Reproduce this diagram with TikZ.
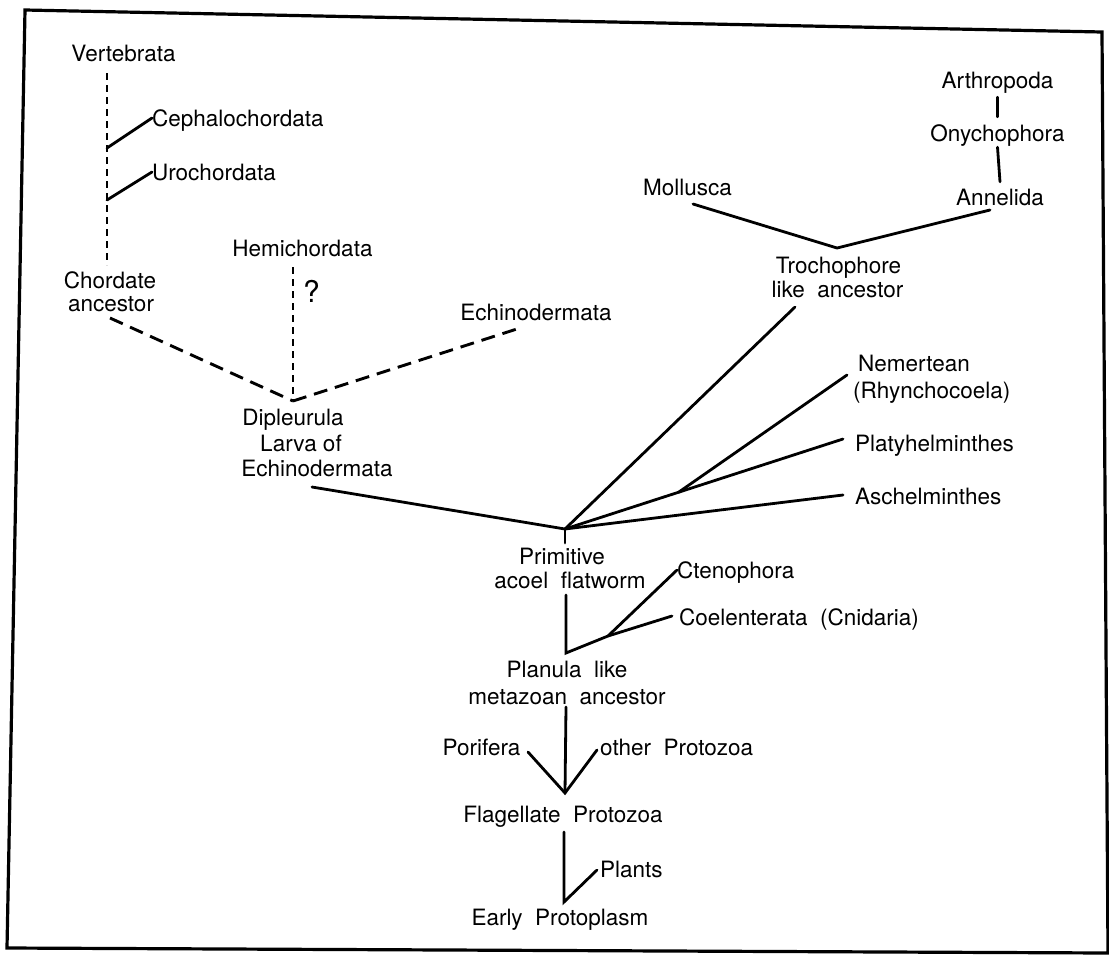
\documentclass[tikz,border=0pt]{standalone}
\usepackage{fontspec}
\setmainfont{TeX Gyre Heros}
\begin{document}
\begin{tikzpicture}[x=1pt,y=-1pt,
  lbl/.style={inner sep=0pt,text height=16pt,text depth=0pt,font=\fontsize{22.5}{27}\selectfont},
  br/.style={line width=2.8pt,line cap=round},
  sdash/.style={line width=2.6pt,dash pattern=on 7pt off 5pt},
  ldash/.style={line width=2.9pt,dash pattern=on 14pt off 8pt}]
\useasboundingbox (0,0) rectangle (1109,959);
\fill[white] (0,0) rectangle (1109,959);
\draw[line width=3.2pt,line join=miter] (25,10) -- (1102,32) -- (1108,953) -- (7,948) -- cycle;

% labels
\node[lbl,anchor=base] (vert) at (123.5,61) {Vertebrata};
\node[lbl,anchor=base west] (ceph) at (152,126) {Cephalochordata};
\node[lbl,anchor=base west] (uro) at (152,180) {Urochordata};
\node[lbl,anchor=base] (chordA) at (110,288) {Chordate};
\node[lbl,anchor=base] (chordB) at (111,311) {ancestor};
\node[lbl,anchor=base] (hemi) at (302.5,256) {Hemichordata};
\node[lbl,anchor=base west,font=\fontsize{30}{36}\selectfont] (qm) at (303,302) {?};
\node[lbl,anchor=base] (echi) at (536,320) {Echinodermata};
\node[lbl,anchor=base] (dipA) at (293,425) {Dipleurula};
\node[lbl,anchor=base] (dipB) at (301,451) {Larva of};
\node[lbl,anchor=base] (dipC) at (317,476) {Echinodermata};
\node[lbl,anchor=base] (moll) at (687.5,195) {Mollusca};
\node[lbl,anchor=base] (arth) at (997.5,88) {Arthropoda};
\node[lbl,anchor=base] (onych) at (997.5,141) {Onychophora};
\node[lbl,anchor=base] (anne) at (1000,205) {Annelida};
\node[lbl,anchor=base] (trochA) at (838.5,273) {Trochophore};
\node[lbl,anchor=base] (trochB) at (837.5,297) {like\ \ ancestor};
\node[lbl,anchor=base west] (nemA) at (858,371) {Nemertean};
\node[lbl,anchor=base west] (nemB) at (853,398) {(Rhynchocoela)};
\node[lbl,anchor=base west] (platy) at (855,451) {Platyhelminthes};
\node[lbl,anchor=base west] (asch) at (855,504) {Aschelminthes};
\node[lbl,anchor=base] (primA) at (562,564) {Primitive};
\node[lbl,anchor=base] (primB) at (570,588) {acoel\ \ flatworm};
\node[lbl,anchor=base west] (cten) at (677,578) {Ctenophora};
\node[lbl,anchor=base west] (coel) at (679,625) {Coelenterata\ \ (Cnidaria)};
\node[lbl,anchor=base] (planA) at (567,677) {Planula\ \ like};
\node[lbl,anchor=base] (planB) at (567,704) {metazoan\ \ ancestor};
\node[lbl,anchor=base] (pori) at (481.5,755) {Porifera};
\node[lbl,anchor=base west] (othp) at (600,755) {other\ \ Protozoa};
\node[lbl,anchor=base] (flag) at (563,822) {Flagellate\ \ Protozoa};
\node[lbl,anchor=base west] (plant) at (600,877) {Plants};
\node[lbl,anchor=base] (early) at (560,925) {Early\ \ Protoplasm};

% junctions and free ends
\coordinate (vtop) at (107,73);
\coordinate (vbot) at (107,265);
\coordinate (jc1) at (107,148);
\coordinate (jc2) at (107,200);
\coordinate (chd) at (110,318);
\coordinate (htop) at (293,267);
\coordinate (jD) at (293,401);
\coordinate (eend) at (520,328);
\coordinate (dend) at (312,487);
\coordinate (jA) at (565,529);
\coordinate (jAt) at (565,543);
\coordinate (tend) at (795,307);
\coordinate (jN) at (678.5,492.3);
\coordinate (nend) at (847,375);
\coordinate (pend) at (843,439);
\coordinate (aend) at (843,495);
\coordinate (jT) at (837,248);
\coordinate (mend) at (693,204);
\coordinate (anend) at (990,210);
\coordinate (ptop) at (566,595);
\coordinate (jP) at (566,653);
\coordinate (jC) at (608,636);
\coordinate (coend) at (672,616);
\coordinate (pltop) at (566,707);
\coordinate (jF) at (565,793);
\coordinate (poend) at (528,752);
\coordinate (otend) at (597,750);
\coordinate (fltop) at (564,832);
\coordinate (jE) at (564,902);
\coordinate (plend) at (597,870);

% chordate branch
\draw[sdash] (vtop) -- (vbot);
\draw[br] (jc1) -- (ceph.west);
\draw[br] (jc2) -- (uro.west);
\draw[ldash] (chd) -- (jD);
\draw[sdash] (htop) -- (jD);
\draw[ldash] (jD) -- (eend);

% main fan
\draw[br] (dend) -- (jA);
\draw[br] (tend) -- (jA);
\draw[br] (jA) -- (pend);
\draw[br] (jN) -- (nend);
\draw[br] (jA) -- (aend);
\draw[br] (jA) -- (jAt);

% trochophore
\draw[br] (mend) -- (jT) -- (anend);
\draw[br] ([yshift=-9pt]arth.south) -- ([yshift=8pt]onych.north);
\draw[br] ([yshift=-6pt]onych.south) -- ([yshift=7pt]anne.north);

% lower trunk
\draw[br] (ptop) -- (jP) -- (jC) -- (coend);
\draw[br] (jC) -- (cten.west);
\draw[br] (pltop) -- (jF);
\draw[br] (poend) -- (jF) -- (otend);
\draw[br] (fltop) -- (jE) -- (plend);
\end{tikzpicture}
\end{document}
